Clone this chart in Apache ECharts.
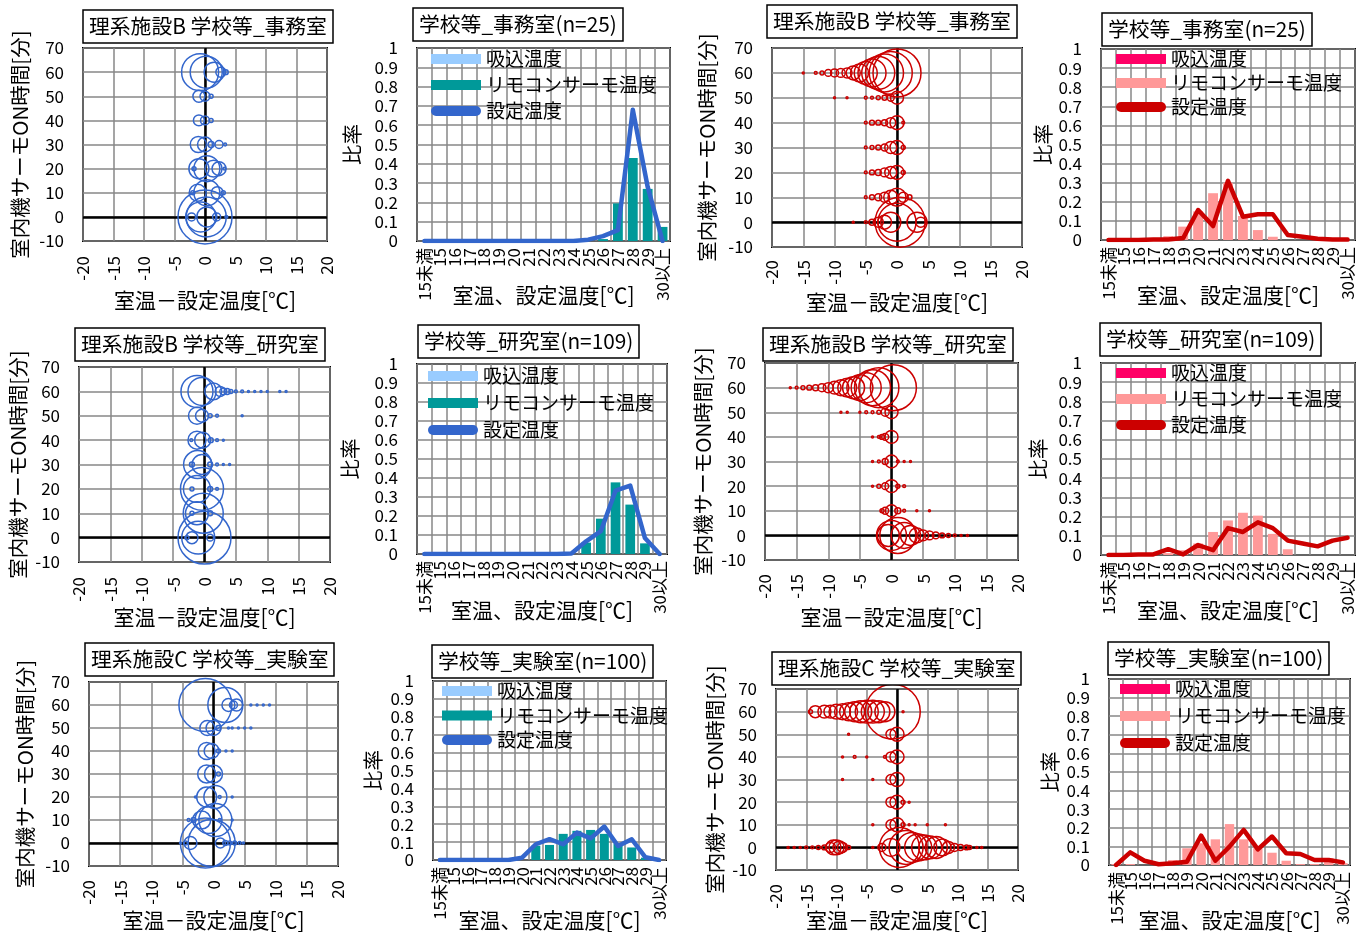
<!DOCTYPE html>
<html><head><meta charset="utf-8">
<script src="https://cdn.jsdelivr.net/npm/echarts@6.0.0/dist/echarts.min.js"></script>
<style>html,body{margin:0;padding:0;background:#fff}#c{width:1370px;height:933px}</style>
</head><body><div id="c"></div>
<script>
// ---------- DATA ----------
const categories = ['15未満','15','16','17','18','19','20','21','22','23','24','25','26','27','28','29','30以上'];
const ratioTicks = ['0','0.1','0.2','0.3','0.4','0.5','0.6','0.7','0.8','0.9','1'];

// histogram series (ratio per category)
const suctionOfficeBlue  = [0,0,0,0,0,0,0,0,0,0,0,0,0,0,0,0,0];
const remoteOfficeBlue   = [0,0,0,0,0,0,0,0,0,0,0,0,0.01,0.195,0.43,0.27,0.073];
const settingOfficeBlue  = [0,0,0,0,0,0,0,0,0,0,0,0.007,0.025,0.056,0.68,0.28,0];

const suctionOfficeRed   = [0,0,0,0,0,0,0,0,0,0,0,0,0,0,0,0,0];
const remoteOfficeRed    = [0,0,0,0,0.02,0.07,0.15,0.245,0.3,0.126,0.052,0.017,0,0,0,0,0];
const settingOfficeRed   = [0,0,0,0.002,0.003,0.01,0.157,0.073,0.31,0.122,0.135,0.135,0.026,0.017,0.007,0.003,0.002];

const suctionResearchBlue = [0,0,0,0,0,0,0,0,0,0,0,0,0,0,0,0,0];
const remoteResearchBlue  = [0,0,0,0,0,0,0,0,0,0,0,0.06,0.186,0.377,0.26,0.056,0];
const settingResearchBlue = [0,0,0,0,0,0,0,0,0,0,0.003,0.067,0.12,0.333,0.36,0.084,0];

const suctionResearchRed  = [0,0,0,0,0,0,0,0,0,0,0,0,0,0,0,0,0];
const remoteResearchRed   = [0,0,0,0,0.01,0.025,0.06,0.12,0.18,0.22,0.205,0.11,0.03,0,0,0,0];
const settingResearchRed  = [0,0,0.002,0.003,0.03,0.003,0.052,0.025,0.14,0.12,0.17,0.14,0.075,0.06,0.045,0.075,0.09];

const suctionLabBlue = [0,0,0,0,0,0,0,0,0,0,0,0,0,0,0,0,0];
const remoteLabBlue  = [0,0,0,0,0,0,0,0.08,0.084,0.146,0.163,0.168,0.146,0.093,0.07,0.013,0];
const settingLabBlue = [0,0,0,0,0,0,0.013,0.088,0.116,0.088,0.153,0.121,0.187,0.078,0.116,0.015,0];

const suctionLabRed = [0,0,0,0,0,0,0,0,0,0,0,0,0,0,0,0,0];
const remoteLabRed  = [0.005,0.005,0,0.005,0.027,0.09,0.117,0.138,0.22,0.138,0.09,0.066,0.023,0.005,0.005,0.036,0.01];
const settingLabRed = [0,0.068,0.023,0.004,0.009,0.018,0.158,0.023,0.099,0.189,0.084,0.153,0.063,0.059,0.027,0.027,0.014];

// bubble data: [室温-設定温度, サーモON時間, 件数]
const bubblesOfficeBlue = [
 [-0.8,60,342],[0.2,60,256],[1.5,60,100],[2.6,60,25],[3.4,60,6],
 [-1,50,36],[0,50,25],[1,50,4],
 [-1,40,30],[0,40,20],[1,40,4],
 [-1.1,30,64],[0,30,56],[1,30,9],[2.3,30,16],[3.3,30,2],
 [-1.8,20,4],[-1,20,100],[0.3,20,169],[1.4,20,72],[2.3,20,49],[3.2,20,2],
 [-2,10,4],[-1.2,10,72],[0.3,10,169],[2,10,36],[3,10,4],
 [-2.2,0,16],[-0.7,0,225],[0,0,729],[0.2,0,400],[0.3,0,100],[1.9,0,16],[3.5,0,2]
];
const bubblesOfficeRed = [
 [-15,60,1],[-13,60,2],[-12,60,4],[-11,60,12],[-10,60,16],[-9,60,20],[-8,60,25],[-7,60,49],[-6,60,81],[-5,60,132],[-4,60,196],[-3,60,272],[-2,60,361],[-1,60,462],[0,60,576],
 [-10,50,1],[-8,50,1],[-5,50,2],[-4,50,2],[-3,50,4],[-2,50,6],[-1,50,12],[0,50,42],
 [-5,40,2],[-4,40,6],[-3,40,6],[-2,40,9],[-1,40,25],[0,40,49],[1,40,2],
 [-5,30,2],[-4,30,4],[-3,30,6],[-2,30,12],[-1,30,36],[0,30,49],[1,30,4],
 [-5,20,2],[-4,20,6],[-3,20,9],[-2,20,20],[-1,20,36],[0,20,49],[1,20,4],
 [-5,10,2],[-4,10,6],[-3,10,12],[-2,10,25],[-1,10,49],[0,10,81],[1,10,25],[2,10,6],
 [-7,0,1],[-5,0,2],[-4,0,9],[-3,0,25],[-2,0,49],[-1,0,100],[0,0,361],[0.5,0,625],[3.2,0,100],[3.8,0,25]
];
const bubblesResearchBlue = [
 [-1.2,60,256],[-0.4,60,196],[1.4,60,72],[2.5,60,25],[3,60,12],[3.6,60,9],[4.2,60,4],[5,60,2],[6,60,2],[7,60,1],[8,60,1],[9,60,1],[10,60,1],[12,60,1],[13,60,1],
 [-1.2,50,72],[-0.4,50,42],[0.9,50,4],[2,50,2],[6,50,1],
 [-2.1,40,2],[-1.2,40,81],[-0.3,40,64],[1,40,6],[2,40,2],[3,40,1],
 [-2,30,6],[-1.1,30,196],[-0.4,30,100],[0.9,30,6],[2,30,2],[3,30,1],[4,30,1],
 [-2,20,4],[-1.2,20,182],[-0.4,20,462],[0.9,20,6],[2,20,2],
 [-2,10,4],[-1.2,10,132],[-0.2,10,400],[0.9,10,6],
 [-2.8,0,4],[-2,0,36],[-1,0,272],[0,0,702],[0.9,0,12]
];
const bubblesResearchRed = [
 [-16,60,1],[-15,60,2],[-14,60,4],[-13,60,6],[-12,60,9],[-11,60,16],[-10,60,25],[-9,60,42],[-8,60,64],[-7,60,90],[-6,60,121],[-5,60,169],[-4,60,225],[-3,60,324],[-2,60,400],[0.3,60,529],
 [-8,50,1],[-7,50,1],[-5,50,1],[-4,50,2],[-3,50,2],[-2,50,4],[-1,50,16],[0,50,42],
 [-3,40,1],[-2,40,2],[-1.5,40,6],[-1,40,12],[0,40,42],
 [-3,30,1],[-2,30,2],[-1,30,9],[0,30,42],[1,30,2],[2,30,1],[3,30,1],
 [-3,20,1],[-2,20,4],[-1,20,12],[0,20,42],[1,20,4],[2,20,2],
 [-1.5,10,4],[-1,10,12],[0,10,36],[1,10,9],[2,10,2],[4,10,1],[6,10,1],
 [-0.5,0,121],[0,0,225],[1,0,324],[2,0,169],[3,0,100],[4,0,56],[5,0,30],[6,0,20],[7,0,12],[8,0,6],[9,0,4],[10,0,2],[11,0,1],[12,0,1]
];
const bubblesLabBlue = [
 [-1.3,60,702],[1.9,60,306],[2.4,60,42],[3.2,60,16],[3.7,60,36],[6,60,1],[7,60,1],[8,60,1],[9,60,1],
 [-1,50,56],[0,50,56],[0.8,50,6],[2.4,50,1],[3,50,1],[4,50,1],[5,50,1],[6,50,1],
 [-1.1,40,72],[-0.3,40,56],[0.8,40,4],[2,40,1],[3,40,1],
 [-1.1,30,81],[0,30,81],[0.8,30,4],
 [-2.9,20,1],[-1.1,20,100],[0.3,20,132],[1,20,2],[3,20,1],
 [-4,10,2],[-3.2,10,6],[-1.9,10,81],[-0.8,10,182],[0.3,10,272],[1,10,2],[3,10,1],
 [-5.3,0,1],[-4.5,0,4],[-3.7,0,42],[-1.3,0,625],[-0.3,0,552],[1.1,0,25],[1.9,0,6],[2.6,0,4],[3.4,0,4],[4.2,0,2],[4.8,0,1]
];
const bubblesLabRed = [
 [-14.3,60,4],[-13.5,60,36],[-12,60,42],[-11,60,42],[-10,60,56],[-9,60,64],[-8,60,81],[-7,60,100],[-6,60,121],[-5,60,132],[-4,60,132],[-3,60,121],[-2,60,100],[-0.7,60,756],[1,60,1],
 [-8,50,1],[-1,50,25],[0,50,49],
 [-9,40,1],[-7,40,2],[-5,40,1],[-2,40,2],[-1,40,25],[0,40,49],
 [-9,30,1],[-4,30,1],[-1,30,25],[0,30,49],
 [-1,20,25],[0,20,49],[1,20,4],[2,20,1],
 [-4,10,1],[-1,10,25],[0,10,49],[1,10,4],[2,10,1],[3,10,1],[5,10,1],[8,10,1],
 [-18,0,1],[-17,0,1],[-16,0,1],[-15,0,2],[-14,0,2],[-13,0,4],[-12,0,6],[-11,0,25],[-10.5,0,56],[-10,0,56],[-9.5,0,42],[-9,0,25],[-8,0,4],
 [-4,0,1],[-2.5,0,16],[-1,0,81],[0.4,0,400],[1.5,0,289],[2.5,0,225],[3.5,0,182],[4.5,0,156],[5.5,0,132],[6.5,0,121],[7.5,0,72],[8.5,0,36],[9.5,0,16],[10.5,0,9],[11.5,0,6],[12,0,4],[13.2,0,1],[14,0,1]
];

const bubbleTitles = ['理系施設B 学校等_事務室','理系施設B 学校等_研究室','理系施設C 学校等_実験室'];
const histTitles = ['学校等_事務室(n=25)','学校等_研究室(n=109)','学校等_実験室(n=100)'];
const legendNames = ['吸込温度','リモコンサーモ温度','設定温度'];

// ---------- STYLE / LAYOUT ----------
const FONT = "'Noto Sans CJK JP', 'Noto Sans', sans-serif";
const GRAY = '#878787';
const BLUE = '#3366CC', TEAL = '#009999', LIGHTBLUE = '#99CCFF';
const RED = '#CC0000', PINK = '#FF9999', HOTPINK = '#FF0066';

const titles = [], grids = [], xAxes = [], yAxes = [], series = [], legends = [];

function addTitle(text, left, top) {
  titles.push({ text, left, top, padding: [5, 6], borderWidth: 1.5, borderColor: '#000', backgroundColor: '#fff',
    textStyle: { fontFamily: FONT, fontSize: 20.8, fontWeight: 'normal', color: '#000', lineHeight: 23 } });
}
const tickText = { fontFamily: FONT, fontSize: 17, color: '#000' };
const xNameText = { fontFamily: FONT, fontSize: 21, color: '#000' };
const yNameText = { fontFamily: FONT, fontSize: 20.5, color: '#000' };
const split = { show: true, lineStyle: { color: GRAY, width: 1.5 } };

function addBubblePanel(p) {
  const gi = grids.length;
  grids.push({ left: p.left, top: p.top, width: p.width, height: p.height, show: true,
    borderColor: '#000', borderWidth: 2, backgroundColor: 'transparent' });
  xAxes.push({ gridIndex: gi, type: 'value', min: -20, max: 20, interval: 5,
    name: '室温－設定温度[℃]', nameLocation: 'middle', nameGap: p.xGap, nameTextStyle: xNameText, nameMoveOverlap: false,
    axisLine: { show: false }, axisTick: { show: false }, splitLine: split,
    axisLabel: Object.assign({ rotate: 90, margin: p.xMargin, showMinLabel: true, showMaxLabel: true }, tickText) });
  yAxes.push({ gridIndex: gi, type: 'value', min: -10, max: 70, interval: 10,
    name: '室内機サーモON時間[分]', nameLocation: 'middle', nameRotate: 90, nameGap: p.yGap, nameTextStyle: yNameText, nameMoveOverlap: false,
    axisLine: { show: false }, axisTick: { show: false }, splitLine: split,
    axisLabel: Object.assign({ margin: 19, showMinLabel: true, showMaxLabel: true, lineHeight: 14 }, tickText) });
  series.push({ type: 'scatter', xAxisIndex: gi, yAxisIndex: gi, data: p.data, symbol: 'circle',
    symbolSize: v => 2 * Math.sqrt(v[2]), silent: true, z: 3,
    itemStyle: { color: 'rgba(0,0,0,0)', borderColor: p.color, borderWidth: 1.5, opacity: 1 },
    markLine: { silent: true, symbol: ['none', 'none'], label: { show: false }, z: 2,
      lineStyle: { color: '#000', width: 2.5, type: 'solid' }, data: [{ xAxis: 0 }, { yAxis: 0 }] } });
  addTitle(p.title, p.tLeft, p.tTop);
}

const capsule = 'path://M5,0L45,0A5,5,0,0,1,45,10L5,10A5,5,0,0,1,5,0Z';
function addHistPanel(p) {
  const gi = grids.length;
  grids.push({ left: p.left, top: p.top, width: p.width, height: p.height, show: true,
    borderColor: '#000', borderWidth: 2, backgroundColor: 'transparent' });
  xAxes.push({ gridIndex: gi, type: 'category', data: categories, boundaryGap: true,
    name: '室温、設定温度[℃]', nameLocation: 'middle', nameGap: p.xGap, nameTextStyle: xNameText, nameMoveOverlap: false,
    axisLine: { show: false }, axisTick: { show: false },
    splitLine: { show: true, interval: 0, lineStyle: { color: GRAY, width: 1.5 } },
    axisLabel: Object.assign({ rotate: 90, margin: 7, interval: 0, hideOverlap: false }, tickText) });
  // y axis drawn as a category-like ruler: 10 bands between 0 and 1, labels from ratioTicks
  yAxes.push({ gridIndex: gi, type: 'value', min: 0, max: 1, interval: 0.1,
    name: '比率', nameLocation: 'middle', nameRotate: 90, nameGap: p.yGap, nameTextStyle: yNameText, nameMoveOverlap: false,
    axisLine: { show: false }, axisTick: { show: false }, splitLine: split,
    axisLabel: Object.assign({}, tickText, { margin: 19, showMinLabel: true, showMaxLabel: true, hideOverlap: false, lineHeight: 14,
      customValues: ratioTicks.map(Number), formatter: v => ratioTicks[Math.round(v * 10)] }) });
  series.push({ type: 'bar', name: legendNames[0], xAxisIndex: gi, yAxisIndex: gi, data: p.suction,
    itemStyle: { color: p.c1 }, barGap: '-100%', barCategoryGap: '34%', silent: true });
  series.push({ type: 'bar', name: legendNames[1], xAxisIndex: gi, yAxisIndex: gi, data: p.remote,
    itemStyle: { color: p.c2 }, barGap: '-100%', barCategoryGap: '34%', silent: true });
  series.push({ type: 'line', name: legendNames[2], xAxisIndex: gi, yAxisIndex: gi, data: p.setting,
    symbol: 'none', z: 4, silent: true, lineStyle: { width: 4.5, color: p.c3, join: 'round', cap: 'round' },
    itemStyle: { color: p.c3 } });
  legends.push({ left: p.lLeft, top: p.lTop, orient: 'vertical', padding: 0, itemGap: p.lGap,
    itemWidth: 50, itemHeight: 10, selectedMode: false,
    textStyle: { fontFamily: FONT, fontSize: 19, color: '#000', lineHeight: 20 },
    data: [
      { name: legendNames[0], icon: 'rect', itemStyle: { color: p.c1, borderWidth: 0 } },
      { name: legendNames[1], icon: 'rect', itemStyle: { color: p.c2, borderWidth: 0 } },
      { name: legendNames[2], icon: capsule, itemStyle: { color: p.c3, borderWidth: 0 } }
    ] });
  addTitle(p.title, p.tLeft, p.tTop);
}

// Row 1
addBubblePanel({ left: 83, top: 48, width: 244, height: 193, xGap: 49, xMargin: 15, yGap: 53,
  data: bubblesOfficeBlue, color: BLUE, title: bubbleTitles[0], tLeft: 83, tTop: 10 });
addHistPanel({ left: 417, top: 48, width: 253, height: 193, xGap: 44, yGap: 55,
  suction: suctionOfficeBlue, remote: remoteOfficeBlue, setting: settingOfficeBlue, c1: LIGHTBLUE, c2: TEAL, c3: BLUE,
  lLeft: 431, lTop: 49, lGap: 6, title: histTitles[0], tLeft: 413, tTop: 8 });
addBubblePanel({ left: 772, top: 48, width: 250, height: 199, xGap: 45, xMargin: 13, yGap: 55,
  data: bubblesOfficeRed, color: RED, title: bubbleTitles[0], tLeft: 767, tTop: 5 });
addHistPanel({ left: 1101, top: 49, width: 254, height: 191, xGap: 45, yGap: 48,
  suction: suctionOfficeRed, remote: remoteOfficeRed, setting: settingOfficeRed, c1: HOTPINK, c2: PINK, c3: RED,
  lLeft: 1116, lTop: 49, lGap: 4, title: histTitles[0], tLeft: 1102, tTop: 13 });
// Row 2
addBubblePanel({ left: 79, top: 367, width: 251, height: 195, xGap: 45, xMargin: 15, yGap: 51,
  data: bubblesResearchBlue, color: BLUE, title: bubbleTitles[1], tLeft: 75, tTop: 328 });
addHistPanel({ left: 417, top: 364, width: 250, height: 190, xGap: 46, yGap: 57,
  suction: suctionResearchBlue, remote: remoteResearchBlue, setting: settingResearchBlue, c1: LIGHTBLUE, c2: TEAL, c3: BLUE,
  lLeft: 428, lTop: 366, lGap: 7, title: histTitles[1], tLeft: 418, tTop: 325 });
addBubblePanel({ left: 765, top: 363, width: 253, height: 197, xGap: 47, xMargin: 14, yGap: 52,
  data: bubblesResearchRed, color: RED, title: bubbleTitles[1], tLeft: 763, tTop: 328 });
addHistPanel({ left: 1101, top: 363, width: 254, height: 192, xGap: 45, yGap: 53,
  suction: suctionResearchRed, remote: remoteResearchRed, setting: settingResearchRed, c1: HOTPINK, c2: PINK, c3: RED,
  lLeft: 1116, lTop: 363, lGap: 6, title: histTitles[1], tLeft: 1100, tTop: 323 });
// Row 3
addBubblePanel({ left: 89, top: 682, width: 249, height: 184, xGap: 44, xMargin: 14, yGap: 54,
  data: bubblesLabBlue, color: BLUE, title: bubbleTitles[2], tLeft: 85, tTop: 643 });
addHistPanel({ left: 433, top: 681, width: 233, height: 179, xGap: 50, yGap: 50,
  suction: suctionLabBlue, remote: remoteLabBlue, setting: settingLabBlue, c1: LIGHTBLUE, c2: TEAL, c3: BLUE,
  lLeft: 442, lTop: 681, lGap: 4.5, title: histTitles[2], tLeft: 432, tTop: 645 });
addBubblePanel({ left: 776, top: 689, width: 242, height: 181, xGap: 40, xMargin: 14, yGap: 51,
  data: bubblesLabRed, color: RED, title: bubbleTitles[2], tLeft: 772, tTop: 652 });
addHistPanel({ left: 1109, top: 679, width: 241, height: 186, xGap: 45, yGap: 49,
  suction: suctionLabRed, remote: remoteLabRed, setting: settingLabRed, c1: HOTPINK, c2: PINK, c3: RED,
  lLeft: 1120, lTop: 679, lGap: 7, title: histTitles[2], tLeft: 1108, tTop: 642 });

const chart = echarts.init(document.getElementById('c'), null, { renderer: 'canvas' });
chart.setOption({
  animation: false,
  backgroundColor: '#fff',
  textStyle: { fontFamily: FONT },
  title: titles, grid: grids, xAxis: xAxes, yAxis: yAxes, legend: legends, series: series
});
</script></body></html>
